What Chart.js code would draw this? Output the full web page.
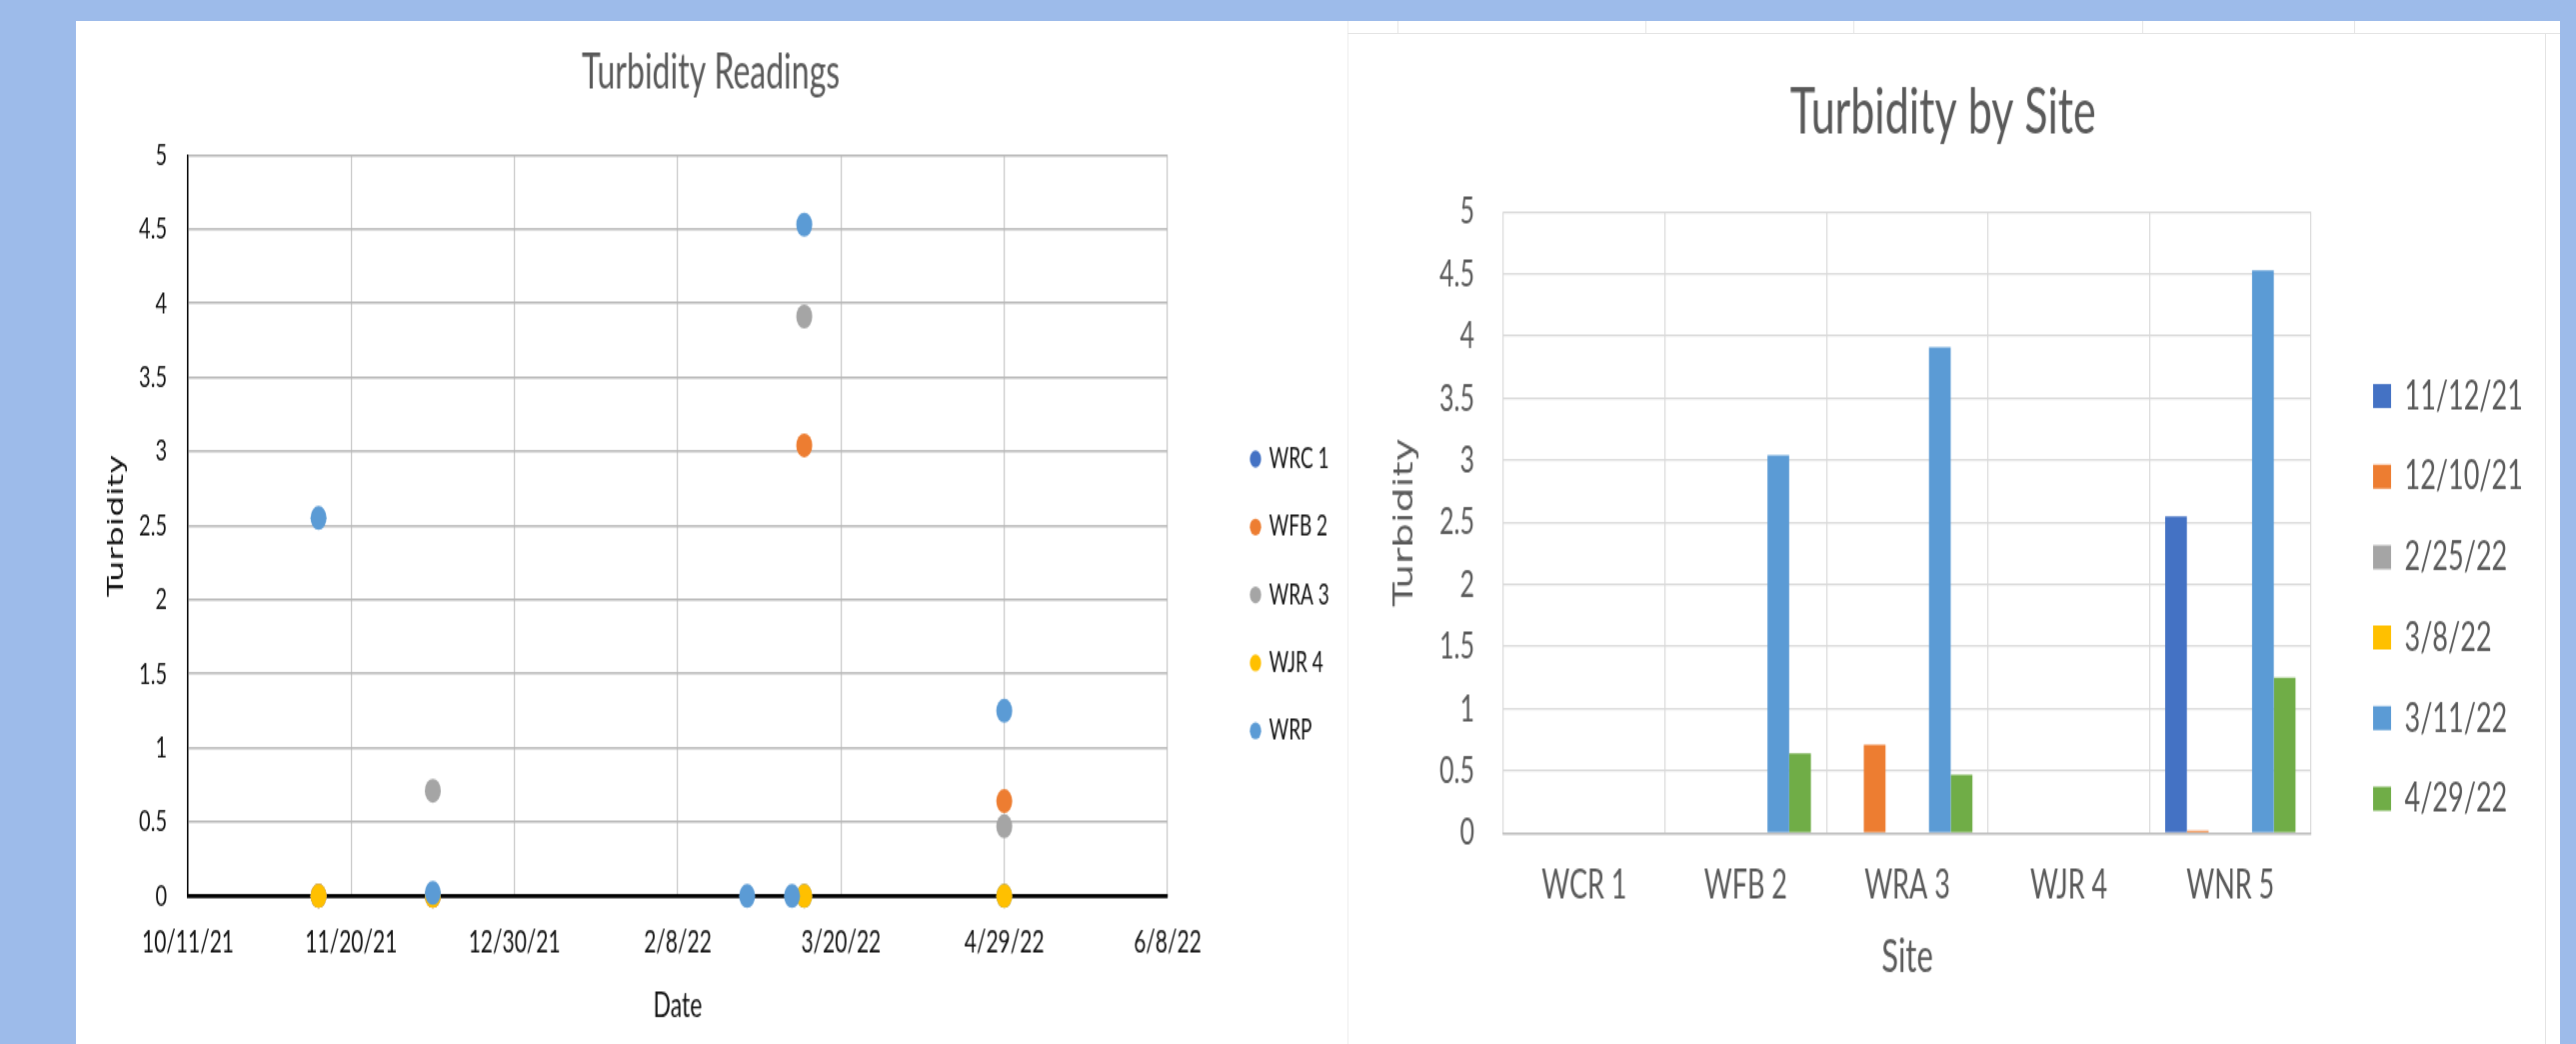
<!DOCTYPE html>
<html>
<head>
<meta charset="utf-8">
<title>Turbidity</title>
<script src="https://cdn.jsdelivr.net/npm/chart.js@4.4.1/dist/chart.umd.min.js"></script>
<style>
  html, body { margin: 0; padding: 0; }
  body { width: 2577px; height: 1044px; background: #9dbbea; position: relative; overflow: hidden; }
  .panel { position: absolute; top: 21px; height: 1023px; background: #ffffff; overflow: hidden; }
  #leftPanel { left: 76px; width: 1272px; }
  #rightPanel { left: 1348px; width: 1213px; }
  .stretch { position: absolute; top: 0; transform-origin: 0 0; }
  .cell { position: absolute; background: #e4e4e4; }
</style>
</head>
<body>
<div class="panel" id="leftPanel">
  <div class="stretch" id="leftWrap" style="left:0;"><canvas id="scatterChart" width="1272" height="682"></canvas></div>
</div>
<div class="panel" id="rightPanel">
  <div class="cell" style="left:0;top:0;width:1px;height:1023px;background:#ececec;"></div>
  <div class="cell" style="left:0;top:12px;width:1213px;height:1px;"></div>
  <div class="cell" style="left:50px;top:0;width:1px;height:12px;"></div>
  <div class="cell" style="left:298px;top:0;width:1px;height:12px;"></div>
  <div class="cell" style="left:506px;top:0;width:1px;height:12px;"></div>
  <div class="cell" style="left:795px;top:0;width:1px;height:12px;"></div>
  <div class="cell" style="left:1007px;top:0;width:1px;height:12px;"></div>
  <div class="cell" style="left:1198px;top:12px;width:1px;height:1011px;"></div>
  <div class="stretch" id="rightWrap" style="left:1px;"><canvas id="barChart" width="1212" height="682"></canvas></div>
</div>
<script>
// Sampling dates (M/D/YY)
const sampleDates = ['11/12/21', '12/10/21', '2/25/22', '3/8/22', '3/11/22', '4/29/22'];

// Site names as used in each chart
const siteNames = ['WRC 1', 'WFB 2', 'WRA 3', 'WJR 4', 'WRP'];
const siteLabels = ['WCR 1', 'WFB 2', 'WRA 3', 'WJR 4', 'WNR 5'];

// Turbidity per site, one value per sampling date (null = no reading)
const wrc1 = [0, 0, null, null, 0, 0];
const wfb2 = [0, 0, null, null, 3.04, 0.64];
const wra3 = [0, 0.71, null, null, 3.91, 0.47];
const wjr4 = [0, 0, null, null, 0, 0];
const wrp  = [2.55, 0.02, 0, 0, 4.53, 1.25];

// Date axis tick labels
const dateTickLabels = ['10/11/21', '11/20/21', '12/30/21', '2/8/22', '3/20/22', '4/29/22', '6/8/22'];

// Palettes
const siteColors = ['#4472C4', '#ED7D31', '#A5A5A5', '#FFC000', '#5B9BD5'];
const dateColors = ['#4472C4', '#ED7D31', '#A5A5A5', '#FFC000', '#5B9BD5', '#70AD47'];

const STRETCH = 1.5;
document.getElementById('leftWrap').style.transform = 'scaleY(' + STRETCH + ')';
document.getElementById('rightWrap').style.transform = 'scaleY(' + STRETCH + ')';

const siteReadings = [wrc1, wfb2, wra3, wjr4, wrp];

function toDay(s) {
  const [m, d, y] = s.split('/').map(Number);
  return Date.UTC(2000 + y, m - 1, d) / 86400000;
}
const dateTickDays = dateTickLabels.map(toDay);
const labelByDay = {};
dateTickDays.forEach((v, i) => { labelByDay[v] = dateTickLabels[i]; });

// Plain numeric labels: 0, 0.5, 1, ...
const plainNumber = v => String(Math.round(v * 10) / 10);

function legendWidth(labels, size, family, boxW, pad) {
  const c = document.createElement('canvas').getContext('2d');
  c.font = 'normal ' + size + 'px ' + family;
  return pad + boxW + size / 2 + Math.max(...labels.map(t => c.measureText(t).width));
}

// Places the legend block and nudges the title after layout
const blockPlacement = {
  id: 'blockPlacement',
  afterLayout(chart, args, opts) {
    const lg = chart.legend;
    if (lg && opts.legendX != null) {
      const pad = lg.options.labels.padding;
      const w = lg.width;
      lg.left = opts.legendX - pad;
      lg.right = lg.left + w;
      lg.top = opts.legendY - pad;
      lg.bottom = chart.height;
      lg.height = lg.bottom - lg.top;
    }
    const tb = chart.titleBlock;
    if (tb && opts.titleDx) {
      tb.left += opts.titleDx;
      tb.right += opts.titleDx;
    }
  }
};

Chart.defaults.font.family = 'Lato';

// ---------- Turbidity Readings (scatter by date) ----------
const leftW = 1272, leftPlotRight = 1102;
const leftLegendFont = 19, leftLegendPad = 26.3, leftLegendBox = 8;
const leftPadRight = leftW - leftPlotRight - legendWidth(siteNames, leftLegendFont, 'Lato', leftLegendBox, leftLegendPad);

new Chart(document.getElementById('scatterChart'), {
  type: 'scatter',
  data: {
    datasets: siteNames.map((name, k) => ({
      label: name,
      data: sampleDates
        .map((d, i) => ({ x: toDay(d), y: siteReadings[k][i] }))
        .filter(p => p.y !== null),
      backgroundColor: siteColors[k],
      borderColor: siteColors[k],
      borderWidth: 0,
      pointRadius: 8,
      pointHoverRadius: 8,
      order: -k,          // later series sit on top
      clip: false
    }))
  },
  options: {
    responsive: false,
    animation: false,
    devicePixelRatio: 1,
    layout: { padding: { top: 0, right: leftPadRight, bottom: 0, left: 0 } },
    plugins: {
      title: {
        display: true,
        text: 'Turbidity Readings',
        color: '#595959',
        font: { family: 'Lato', size: 32, weight: 'normal' },
        padding: { top: 15.5, bottom: 35.4 }
      },
      legend: {
        position: 'right',
        align: 'start',
        labels: {
          usePointStyle: true,
          pointStyle: 'circle',
          boxWidth: leftLegendBox,
          boxHeight: leftLegendBox,
          padding: leftLegendPad,
          color: '#111111',
          font: { family: 'Lato', size: leftLegendFont },
          sort: (a, b) => a.datasetIndex - b.datasetIndex
        }
      },
      tooltip: { enabled: false },
      blockPlacement: { legendX: 1176, legendY: 282.5, titleDx: 32 }
    },
    scales: {
      x: {
        type: 'linear',
        min: dateTickDays[0],
        max: dateTickDays[dateTickDays.length - 1],
        afterBuildTicks: s => { s.ticks = dateTickDays.map(v => ({ value: v })); },
        afterFit: s => { s.height = 98.7; },
        ticks: {
          callback: v => labelByDay[v],
          autoSkip: false,
          maxRotation: 0,
          padding: 18.8,
          color: '#111111',
          font: { family: 'Lato', size: 21 }
        },
        grid: {
          drawTicks: false,
          color: c => (c.tick && c.tick.value === dateTickDays[0]) ? '#000000' : '#c6c6c6',
          lineWidth: 1.2
        },
        border: { color: '#000000', width: 2.6 },
        title: {
          display: true,
          text: 'Date',
          color: '#111111',
          font: { family: 'Lato', size: 23 },
          padding: { top: 0, bottom: 12 }
        }
      },
      y: {
        min: 0,
        max: 5,
        afterFit: s => { s.width = 112; },
        ticks: {
          stepSize: 0.5,
          callback: plainNumber,
          padding: 21,
          color: '#111111',
          font: { family: 'Lato', size: 20 }
        },
        grid: {
          drawTicks: false,
          color: c => (c.tick && c.tick.value === 0) ? '#000000' : '#b8b8b8',
          lineWidth: c => (c.tick && c.tick.value === 0) ? 2.6 : 1.4
        },
        border: { color: '#000000', width: 1.4 },
        title: {
          display: true,
          text: 'Turbidity',
          color: '#111111',
          font: { family: 'DejaVu Sans', size: 22 },
          padding: { top: 27.8, bottom: 0 }
        }
      }
    }
  },
  plugins: [blockPlacement]
});

// ---------- Turbidity by Site (clustered columns) ----------
const rightW = 1212, rightPlotRight = 973;
const rightLegendFont = 27, rightLegendPad = 26.7, rightLegendBox = 18;
const rightPadRight = rightW - rightPlotRight - legendWidth(sampleDates, rightLegendFont, 'Lato', rightLegendBox, rightLegendPad);

new Chart(document.getElementById('barChart'), {
  type: 'bar',
  data: {
    labels: siteLabels,
    datasets: sampleDates.map((d, i) => ({
      label: d,
      data: siteReadings.map(r => r[i]),
      backgroundColor: dateColors[i],
      borderWidth: 0
    }))
  },
  options: {
    responsive: false,
    animation: false,
    devicePixelRatio: 1,
    categoryPercentage: 0.807,
    barPercentage: 1,
    layout: { padding: { top: 0, right: rightPadRight, bottom: 0, left: 0 } },
    plugins: {
      title: {
        display: true,
        text: 'Turbidity by Site',
        color: '#595959',
        font: { family: 'Lato', size: 43, weight: 'normal' },
        padding: { top: 35.2, bottom: 40.5 }
      },
      legend: {
        position: 'right',
        align: 'start',
        labels: {
          boxWidth: rightLegendBox,
          boxHeight: 16,
          padding: rightLegendPad,
          color: '#595959',
          font: { family: 'Lato', size: rightLegendFont }
        }
      },
      tooltip: { enabled: false },
      blockPlacement: { legendX: 1025, legendY: 236.5, titleDx: 20 }
    },
    scales: {
      x: {
        afterFit: s => { s.height = 140.7; },
        ticks: {
          padding: 19.2,
          color: '#595959',
          font: { family: 'Lato', size: 27 }
        },
        grid: { drawTicks: false, color: '#d9d9d9', lineWidth: 1.2 },
        border: { color: '#bfbfbf', width: 1.6 },
        title: {
          display: true,
          text: 'Site',
          color: '#595959',
          font: { family: 'Lato', size: 31 },
          padding: { top: 0, bottom: 39.4 }
        }
      },
      y: {
        min: 0,
        max: 5,
        afterFit: s => { s.width = 155; },
        ticks: {
          stepSize: 0.5,
          callback: plainNumber,
          padding: 29,
          color: '#595959',
          font: { family: 'Lato', size: 25 }
        },
        grid: { drawTicks: false, color: '#d9d9d9', lineWidth: 1.3 },
        border: { display: false },
        title: {
          display: true,
          text: 'Turbidity',
          color: '#595959',
          font: { family: 'DejaVu Sans', size: 26 },
          padding: { top: 41.4, bottom: 0 }
        }
      }
    }
  },
  plugins: [blockPlacement]
});
</script>
</body>
</html>
